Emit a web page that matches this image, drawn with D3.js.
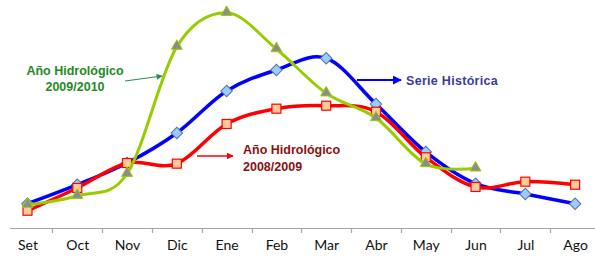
<!DOCTYPE html>
<html>
<head>
<meta charset="utf-8">
<script src="https://cdn.jsdelivr.net/npm/d3@7"></script>
<style>
  html, body { margin: 0; padding: 0; background: #fff; }
  svg { display: block; }
</style>
</head>
<body>
<svg id="chart" width="595" height="266"></svg>
<script>
const months = ["Set","Oct","Nov","Dic","Ene","Feb","Mar","Abr","May","Jun","Jul","Ago"];
const serieHistorica = [28.1, 49.2, 73.3, 106.7, 153.3, 176.7, 189.7, 138.9, 85.6, 50.3, 38.9, 28.1];
const anio2008 = [20.3, 45.6, 73.3, 72.6, 116.7, 133.7, 137.0, 130.3, 79.7, 46.7, 52.6, 49.2];
const anio2009 = [27.0, 37.0, 61.4, 202.6, 240.3, 200.0, 150.8, 123.3, 72.2, 67.4];

const svg = d3.select("#chart");

const xBand = d3.scaleBand().domain(months).range([2.6, 600]).padding(0);
const x = m => xBand(m) + xBand.bandwidth() / 2;
const y = d3.scaleLinear().domain([0, 250]).range([229, 4]);

// axis
const axisY = 228.5;
svg.append("line").attr("x1", 10).attr("x2", 595).attr("y1", axisY).attr("y2", axisY)
  .attr("stroke", "#a6a6a6").attr("stroke-width", 1.2);
svg.selectAll("line.tick").data(months.slice(1)).enter().append("line")
  .attr("class", "tick")
  .attr("x1", d => Math.round(xBand(d)) + 0.5).attr("x2", d => Math.round(xBand(d)) + 0.5)
  .attr("y1", axisY).attr("y2", axisY + 4.5)
  .attr("stroke", "#a6a6a6").attr("stroke-width", 1.2);

const labelScale = d3.scalePoint().domain(months).range([x(months[0]), x(months[months.length - 1])]);
const axisG = svg.append("g").attr("transform", `translate(0,${axisY + 12})`)
  .call(d3.axisBottom(labelScale).tickSize(0).tickPadding(0));
axisG.select(".domain").remove();
axisG.selectAll("text")
  .attr("font-family", "Lato, 'Open Sans', sans-serif")
  .attr("font-size", 14)
  .attr("fill", "#111");

// defs
const defs = svg.append("defs");
function marker(id, color, w, h) {
  defs.append("marker").attr("id", id)
    .attr("viewBox", "0 0 10 10").attr("refX", 9).attr("refY", 5)
    .attr("markerWidth", w).attr("markerHeight", h)
    .attr("markerUnits", "userSpaceOnUse")
    .attr("orient", "auto")
    .append("path").attr("d", "M0,0 L10,5 L0,10 Z").attr("fill", color);
}
marker("arrBlue", "#0000ff", 9, 9);
marker("arrRed", "#ff0000", 7, 7);
marker("arrGreen", "#2e8b57", 7, 6);

const line = d3.line().x(d => x(d.m)).y(d => y(d.v)).curve(d3.curveCardinal.tension(0));

function series(vals, color, width) {
  const data = vals.map((v, i) => ({ m: months[i], v }));
  svg.append("path").datum(data).attr("d", line)
    .attr("fill", "none").attr("stroke", color).attr("stroke-width", width)
    .attr("stroke-linejoin", "round").attr("stroke-linecap", "round");
  return data;
}

// Serie Histórica
const dBlue = series(serieHistorica, "#0000ff", 3.5);
svg.selectAll("path.diam").data(dBlue).enter().append("path")
  .attr("class", "diam")
  .attr("d", d3.symbol().type(d3.symbolSquare).size(66))
  .attr("transform", d => `translate(${x(d.m)},${y(d.v)}) rotate(45)`)
  .attr("fill", "#99ccff").attr("stroke", "#5a6fa8").attr("stroke-width", 1);

// 2008/2009
const dRed = series(anio2008, "#ff0000", 3.5);
svg.selectAll("rect.sq").data(dRed).enter().append("rect")
  .attr("class", "sq")
  .attr("x", d => x(d.m) - 4.5).attr("y", d => y(d.v) - 4.5)
  .attr("width", 9).attr("height", 9)
  .attr("fill", "#ffcc99").attr("stroke", "#ff0000").attr("stroke-width", 1.2);

// 2009/2010
const dGreen = series(anio2009, "#99cc00", 3);
svg.selectAll("path.tri").data(dGreen).enter().append("path")
  .attr("class", "tri")
  .attr("d", d3.symbol().type(d3.symbolTriangle).size(52))
  .attr("transform", d => `translate(${x(d.m)},${y(d.v) - 0.5})`)
  .attr("fill", "#8c8c8c").attr("stroke", "#99cc00").attr("stroke-width", 1);

// annotations
const font = "'Liberation Sans', Arial, sans-serif";
const g1 = svg.append("text").attr("font-family", font).attr("font-weight", "bold")
  .attr("font-size", 12.5).attr("fill", "#1f8a1f").attr("text-anchor", "middle");
g1.append("tspan").attr("x", 75).attr("y", 75).text("Año Hidrológico");
g1.append("tspan").attr("x", 75).attr("y", 91).text("2009/2010");
svg.append("line").attr("x1", 125).attr("y1", 81).attr("x2", 162).attr("y2", 76)
  .attr("stroke", "#2e8b57").attr("stroke-width", 1.2).attr("marker-end", "url(#arrGreen)");

svg.append("text").attr("font-family", font).attr("font-weight", "bold")
  .attr("font-size", 12.5).attr("letter-spacing", 0.3).attr("fill", "#3b3b9b")
  .attr("x", 406).attr("y", 84.5).text("Serie Histórica");
svg.append("line").attr("x1", 357).attr("y1", 80).attr("x2", 401).attr("y2", 80)
  .attr("stroke", "#0000ff").attr("stroke-width", 2).attr("marker-end", "url(#arrBlue)");

const g2 = svg.append("text").attr("font-family", font).attr("font-weight", "bold")
  .attr("font-size", 12.5).attr("fill", "#8b0f0f");
g2.append("tspan").attr("x", 243).attr("y", 153.5).text("Año Hidrológico");
g2.append("tspan").attr("x", 243).attr("y", 170.5).text("2008/2009");
svg.append("line").attr("x1", 197).attr("y1", 156).attr("x2", 233).attr("y2", 156)
  .attr("stroke", "#ff0000").attr("stroke-width", 1.5).attr("marker-end", "url(#arrRed)");
</script>
</body>
</html>
